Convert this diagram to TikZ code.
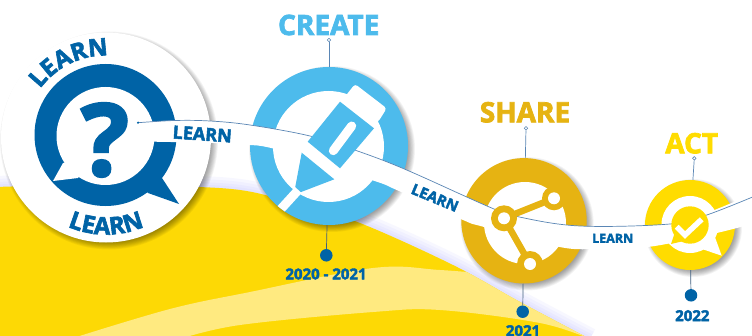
\documentclass[tikz,border=0pt]{standalone}
\usepackage{fontspec}
\setmainfont{Open Sans}[BoldFeatures={FakeBold=2.6}]
\usetikzlibrary{decorations.text}
\definecolor{learnblue}{HTML}{0063A6}
\definecolor{createblue}{HTML}{4DBBEC}
\definecolor{sharegold}{HTML}{E6B312}
\definecolor{actyellow}{HTML}{FFDC00}
\definecolor{bgyellow}{HTML}{FDD905}
\definecolor{bandyellow}{HTML}{FFEA80}
\definecolor{stemblue}{HTML}{5A86B5}
\tikzset{
	disc/.style={circle,inner sep=0pt,minimum size=#1},
	stem/.style={draw=stemblue,line width=0.7pt},
	knob/.style={circle,draw=stemblue,fill=white,inner sep=0pt,minimum size=3.5pt,line width=0.6pt},
	yeardot/.style={circle,fill=learnblue,inner sep=0pt,minimum size=12.5pt},
	yearlabel/.style={text=learnblue,font=\bfseries\fontsize{15}{15}\selectfont,inner sep=0pt},
	titlelabel/.style={font=\bfseries\fontsize{28}{28}\selectfont,inner sep=0pt},
	ribbonlabel/.style={text=learnblue,inner sep=0pt}
}
\newcommand{\yellowedge}{plot[smooth,tension=.6] coordinates {(-5,148) (80,150) (160,149) (240,145) (300,130) (360,112) (453,70) (520,33) (590,-4)}}
\newcommand{\discshadow}[3]{\foreach \i in {0,...,9} {\fill[black,opacity=0.045] (#1+3,#2-3) circle ({#3+4-\i*0.8});}}
\begin{document}
\begin{tikzpicture}[x=1pt,y=1pt]
	\useasboundingbox (0,0) rectangle (752,335);
	\fill[white] (0,0) rectangle (752,335);

	% yellow ground
	\foreach \w in {22,16,10,5} {\draw[blue!40!white,opacity=0.07,line width=\w pt] \yellowedge;}
	\fill[bgyellow] \yellowedge -- (-5,-5) -- cycle;
	\begin{scope}
		\clip \yellowedge -- (-5,-5) -- cycle;
		\fill[bandyellow] plot[smooth,tension=.6] coordinates {(70,-4) (170,26) (250,43) (373,67) (440,65) (500,60)} -- (600,0) -- plot[smooth,tension=.6] coordinates {(590,-4) (540,12) (440,25) (373,23) (240,10) (180,-4)} -- cycle;
	\end{scope}

	% discs
	\discshadow{106}{197.5}{105}
	\discshadow{329}{189}{79}
	\discshadow{524}{114.2}{62.7}
	\discshadow{690}{110}{45}
	\node[disc=210pt,fill=white] (learnDisc) at (106,197.5) {};
	\node[disc=158pt,fill=createblue] (createDisc) at (329,189) {};
	\node[disc=125.4pt,fill=sharegold] (shareDisc) at (524,114.2) {};
	\node[disc=90pt,fill=actyellow] (actDisc) at (690,110) {};

	% learn ring
	\node[disc=142pt,fill=learnblue] (learnRing) at (105.5,200) {};
	\fill[learnblue] (179,131) -- (162,157) -- (150,170) -- (140,150) -- (148,142) -- cycle;
	\node[disc=98pt,fill=white] (learnHole) at (105.5,199) {};
	\fill[white] (63,172) -- (53,154) -- (78,157) -- (90,175) -- cycle;
	\node[text=learnblue,inner sep=0pt,font=\bfseries\fontsize{100}{100}\selectfont] (learnMark) at (105,195) {?};
	\path[decorate,decoration={text along path,text align=center,text color=learnblue,text={|\bfseries\fontsize{24}{24}\selectfont|LEARN}}] (106,197.5) ++(150:82) arc[start angle=150,end angle=82,radius=82];
	\path[decorate,decoration={text along path,text align=center,text color=learnblue,text={|\bfseries\fontsize{24}{24}\selectfont|LEARN}}] (106,197.5) ++(240:97) arc[start angle=240,end angle=300,radius=97];

	% inner holes
	\node[disc=111pt,fill=white] (createHole) at (328.5,188.5) {};
	\node[disc=82pt,fill=white] (shareHole) at (525,112) {};
	\node[disc=57pt,fill=white] (actHole) at (690,110.5) {};
	\fill[white] (721.7,79.3) -- (712,106) -- (690,90) -- cycle;

	% ribbon
	\fill[white] plot[smooth,tension=.6] coordinates {(138,212.3) (175,214.5) (210,214) (250,210) (310,199) (356.7,184.3) (406.7,165) (490,127.7) (518,118.3) (580,109) (670,111) (706.7,122) (755,142)} -- plot[smooth,tension=.6] coordinates {(755,112) (716.7,102) (650,88.3) (596.7,86) (558,88.3) (483,108.3) (463,115) (396.7,145) (371.7,155) (275,186) (240,190) (213,192) (154,193.3)} -- cycle;
	\draw[stem] plot[smooth,tension=.6] coordinates {(138,212.3) (175,214.5) (210,214) (250,210) (310,199) (356.7,184.3) (406.7,165) (490,127.7) (518,118.3) (580,109) (670,111) (706.7,120) (755,139)};
	\fill[learnblue] (138,212.3) circle (1.2);
	\node[ribbonlabel,rotate=-4,font=\bfseries\fontsize{18}{18}\selectfont] (learnOne) at (202.3,201) {LEARN};
	\node[ribbonlabel,rotate=-22.6,font=\bfseries\fontsize{15}{15}\selectfont] (learnTwo) at (435,137.3) {LEARN};
	\node[ribbonlabel,font=\bfseries\fontsize{12.5}{12.5}\selectfont] (learnThree) at (612.7,96.7) {LEARN};

	% create pen
	\fill[white,rounded corners=3pt] (340,232) -- (355,251) -- (386.7,226.7) -- (378.3,213.3) -- (360,205) -- cycle;
	\fill[createblue] (340,233.3) -- (374,206.7) -- (340,166.7) -- (307.7,193.3) -- cycle;
	\draw[white,line width=9pt,line cap=round] (351.7,209) -- (333.3,184.3);
	\fill[createblue] (301.7,182.3) -- (334.3,155.7) -- (299.3,142.3) -- (295,146.7) -- cycle;
	\begin{scope}
		\clip (329,189) circle (79);
		\draw[white,line width=9pt] (298.3,145) -- (270,114);
	\end{scope}

	% share icon
	\draw[sharegold,line width=6.5pt] (554,136.7) -- (504,116.7) -- (530,71);
	\node[disc=26pt,fill=sharegold] (shareHub) at (504,116.7) {};
	\node[disc=24pt,fill=sharegold] (shareUp) at (554,136.7) {};
	\node[disc=26pt,fill=sharegold] (shareDown) at (530,71) {};
	\node[disc=12pt,fill=white] (shareHubIn) at (504,116.7) {};
	\node[disc=12pt,fill=white] (shareUpIn) at (554,136.7) {};
	\node[disc=12pt,fill=white] (shareDownIn) at (530,71) {};

	% act bubble
	\node[disc=37.4pt,fill=actyellow] (actBubble) at (690,110) {};
	\fill[actyellow] (671,91) -- (676,106) -- (688,95) -- cycle;
	\draw[white,line width=5.5pt] (676.7,108.3) -- (685,100) -- (701.7,115.7);

	% titles and years
	\node[titlelabel,text=createblue] (createTitle) at (328.7,310) {CREATE};
	\node[knob] (createKnob) at (329,295) {};
	\draw[stem] (createKnob) -- (createDisc);
	\node[yeardot] (createDot) at (326.3,79.7) {};
	\draw[stem,draw=stemblue!70!black] (createDisc) -- (createDot);
	\node[yearlabel] (createYear) at (326,61) {2020 - 2021};

	\node[titlelabel,text=sharegold] (shareTitle) at (525,222.7) {SHARE};
	\node[knob] (shareKnob) at (526,206.7) {};
	\draw[stem] (shareKnob) -- (shareDisc);
	\node[yeardot] (shareDot) at (522.7,23.3) {};
	\draw[stem,draw=stemblue!70!black] (shareDisc) -- (shareDot);
	\node[yearlabel] (shareYear) at (523,4.3) {2021};

	\node[titlelabel,text=actyellow] (actTitle) at (691.7,191.7) {ACT};
	\node[knob] (actKnob) at (694.3,176.7) {};
	\draw[stem] (actKnob) -- (actDisc);
	\node[yeardot] (actDot) at (691,39.7) {};
	\draw[stem,draw=stemblue!70!black] (actDisc) -- (actDot);
	\node[yearlabel] (actYear) at (692.3,19.3) {2022};
\end{tikzpicture}
\end{document}
